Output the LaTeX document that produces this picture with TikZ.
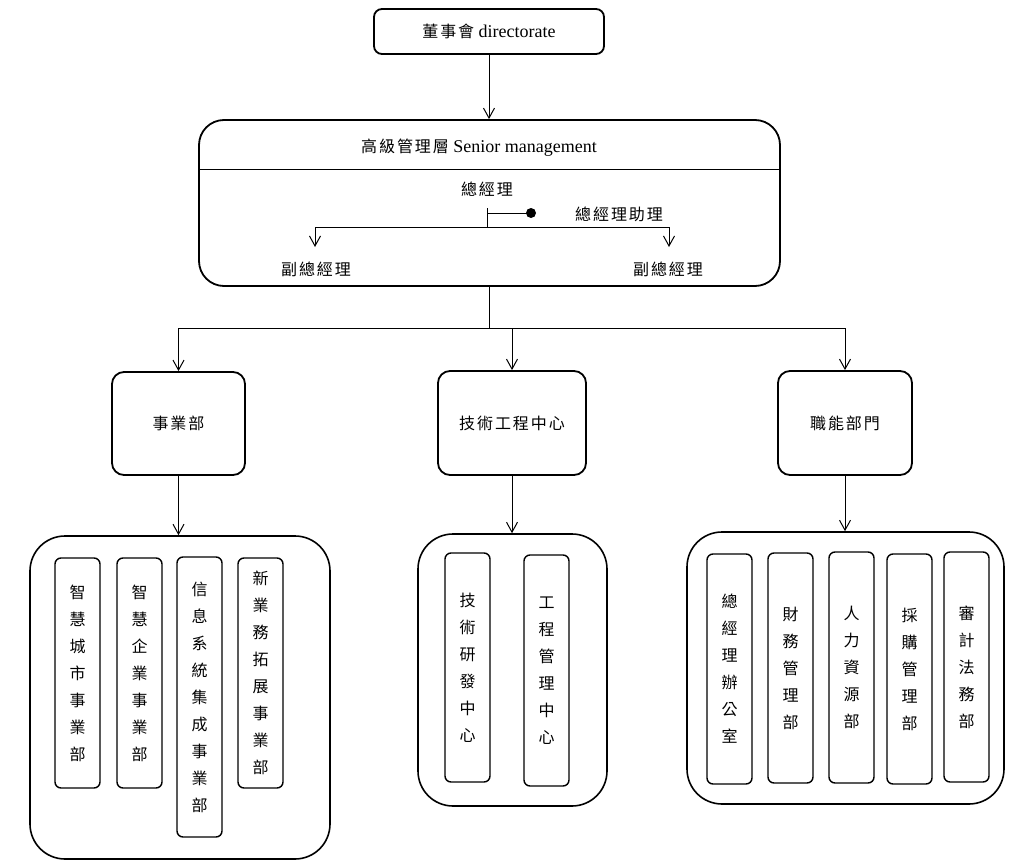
\documentclass[tikz,border=0pt]{standalone}
\usepackage{fontspec}
\setmainfont{Liberation Serif}
\newfontfamily\cjk[LetterSpace=12]{Noto Sans CJK TC}
\newfontfamily\cjkv{Noto Sans CJK TC}
\usetikzlibrary{arrows.meta,calc}
\newcommand\zhtext[1]{{\cjk\fontsize{16}{20}\selectfont #1}}
\begin{document}
\begin{tikzpicture}[x=1pt,y=-1pt,line width=1pt,
  every node/.style={font=\fontsize{18}{22}\selectfont},
  topbox/.style={draw, line width=1.8pt, rounded corners=8pt, inner sep=0pt},
  smbox/.style={draw, line width=1.8pt, rounded corners=25pt, inner sep=0pt},
  lvbox/.style={draw, line width=1.8pt, rounded corners=12pt, inner sep=0pt},
  cont/.style={draw, line width=1.6pt, rounded corners=35pt, inner sep=0pt},
  vbox/.style={draw, line width=1.4pt, rounded corners=6pt, inner sep=0pt,
    minimum width=45pt, align=center, font=\cjkv\fontsize{16}{27}\selectfont},
  arr/.style={-{Straight Barb[length=10pt,width=11pt,line width=1pt]}}]
\useasboundingbox (0,0) rectangle (1013,867);

% top
\node[topbox, minimum width=230pt, minimum height=45pt] (dir) at (489,31.5) {\zhtext{董事會} directorate};

% senior management
\node[smbox, minimum width=581pt, minimum height=166pt] (sm) at (489.5,203) {};
\node (smt) at (479,148) {\zhtext{高級管理層} Senior management};
\draw (sm.west |- 0,169) -- (sm.east |- 0,169);
\draw[arr] (dir.south) -- (dir.south |- sm.north);

\node (gm) at (487,189) {\zhtext{總經理}};
\node (asst) at (619,214) {\zhtext{總經理助理}};
\node (vp1) at (316,269) {\zhtext{副總經理}};
\node (vp2) at (668,269) {\zhtext{副總經理}};
\coordinate (gmb) at (487,208);
\coordinate (j) at (487,227);
\coordinate (dot) at (531,213);
\coordinate (al) at (315,247);
\coordinate (ar) at (669,247);
\draw (gmb) -- (j);
\draw (gmb |- dot) -- (dot);
\fill (dot) circle (5pt);
\draw[arr] (j) -| (al);
\draw[arr] (j) -| (ar);

% level 2
\node[lvbox, minimum width=133pt, minimum height=103pt] (b1) at (178.5,423.5) {\zhtext{事業部}};
\node[lvbox, minimum width=148pt, minimum height=104pt] (b2) at (512,423) {\zhtext{技術工程中心}};
\node[lvbox, minimum width=134pt, minimum height=104pt] (b3) at (845,423) {\zhtext{職能部門}};
\coordinate (bus) at (489.5,328);
\draw (sm.south) -- (bus);
\draw[arr] (bus) -| (b1.north);
\draw[arr] (bus) -| (b2.north);
\draw[arr] (bus) -| (b3.north);

% containers
\node[cont, minimum width=300pt, minimum height=323pt] (c1) at (180,697.5) {};
\node[cont, minimum width=189pt, minimum height=272pt] (c2) at (512.5,670) {};
\node[cont, minimum width=317pt, minimum height=272pt] (c3) at (845.5,668) {};
\draw[arr] (b1.south) -- (b1.south |- c1.north);
\draw[arr] (b2.south) -- (b2.south |- c2.north);
\draw[arr] (b3.south) -- (b3.south |- c3.north);

% inner boxes
\node[vbox, minimum height=230pt] (i11) at (77.5,673) {智\\慧\\城\\市\\事\\業\\部};
\node[vbox, minimum height=230pt] (i12) at (139.5,673) {智\\慧\\企\\業\\事\\業\\部};
\node[vbox, minimum height=280pt] (i13) at (199.5,697) {信\\息\\系\\統\\集\\成\\事\\業\\部};
\node[vbox, minimum height=230pt] (i14) at (260.5,673) {新\\業\\務\\拓\\展\\事\\業\\部};

\node[vbox, minimum height=229pt] (i21) at (467.5,667.5) {技\\術\\研\\發\\中\\心};
\node[vbox, minimum height=231pt] (i22) at (546.5,670.5) {工\\程\\管\\理\\中\\心};

\node[vbox, minimum height=230pt] (i31) at (729.5,669) {總\\經\\理\\辦\\公\\室};
\node[vbox, minimum height=230pt] (i32) at (790.5,668) {財\\務\\管\\理\\部};
\node[vbox, minimum height=231pt] (i33) at (851.5,667.5) {人\\力\\資\\源\\部};
\node[vbox, minimum height=230pt] (i34) at (909.5,669) {採\\購\\管\\理\\部};
\node[vbox, minimum height=230pt] (i35) at (966.5,667) {審\\計\\法\\務\\部};
\end{tikzpicture}
\end{document}
